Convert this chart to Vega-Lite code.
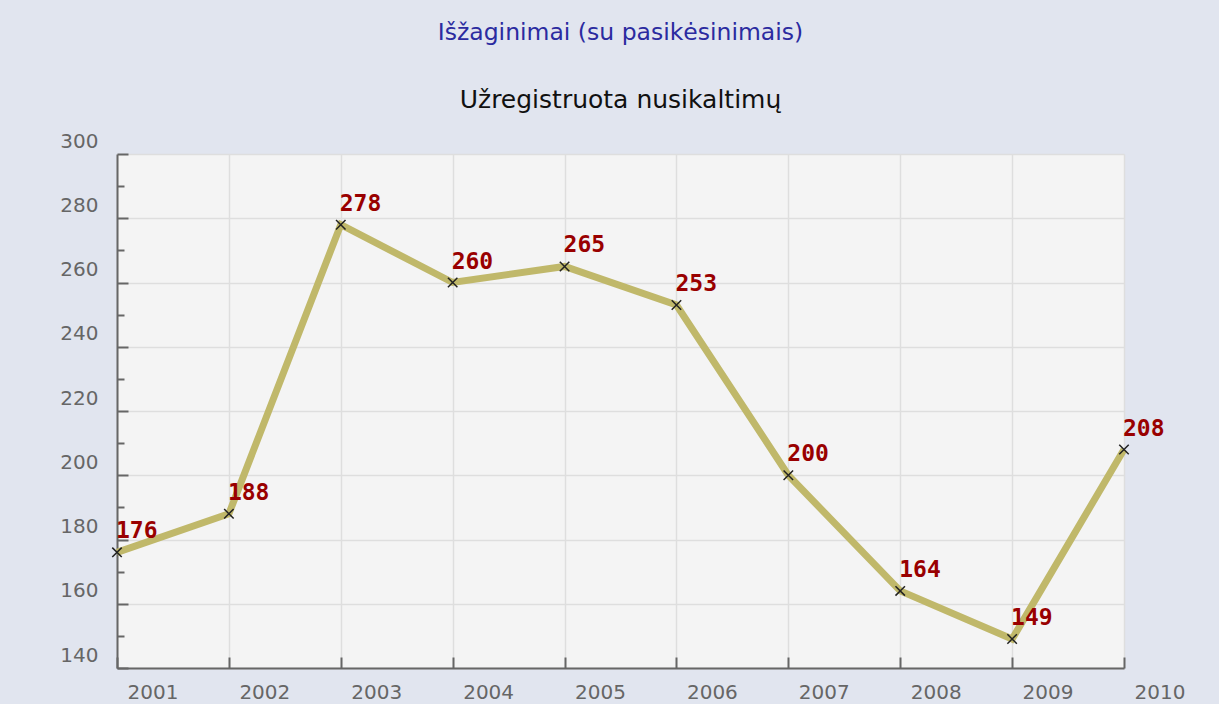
{
  "$schema": "https://vega.github.io/schema/vega-lite/v6.json",
  "autosize": {"type": "none"},
  "width": 1007,
  "height": 514,
  "padding": {"left": 117, "top": 154, "right": 95, "bottom": 36},
  "background": "#e1e5ef",
  "config": {
    "view": {"fill": "#f4f4f4", "stroke": null},
    "axis": {"labelFont": "DejaVu Sans", "labelFontSize": 20, "labelColor": "#666666", "domainColor": "#666666", "domainWidth": 2, "tickColor": "#666666", "tickWidth": 2, "gridColor": "#dedede", "gridWidth": 1.5, "title": null}
  },
  "title": {
    "text": "Išžaginimai (su pasikėsinimais)",
    "subtitle": "Užregistruota nusikaltimų",
    "anchor": "middle",
    "frame": "group",
    "font": "DejaVu Sans",
    "fontSize": 23.5,
    "fontWeight": "normal",
    "color": "#2b2ba0",
    "subtitleFont": "DejaVu Sans",
    "subtitleFontSize": 25,
    "subtitleColor": "#111111",
    "subtitlePadding": 44,
    "offset": 18
  },
  "data": {
    "values": [
      {"year": 2001, "value": 176},
      {"year": 2002, "value": 188},
      {"year": 2003, "value": 278},
      {"year": 2004, "value": 260},
      {"year": 2005, "value": 265},
      {"year": 2006, "value": 253},
      {"year": 2007, "value": 200},
      {"year": 2008, "value": 164},
      {"year": 2009, "value": 149},
      {"year": 2010, "value": 208}
    ]
  },
  "encoding": {
    "x": {
      "field": "year", "type": "quantitative",
      "scale": {"domain": [2001, 2010], "nice": false, "zero": false},
      "axis": {"values": [2001, 2002, 2003, 2004, 2005, 2006, 2007, 2008, 2009, 2010], "format": "d", "labelAlign": "left", "labelBaseline": "top", "labelOffset": 10, "labelPadding": 25, "tickSize": -11, "labelFlush": false}
    },
    "y": {
      "field": "value", "type": "quantitative",
      "scale": {"domain": [140, 300], "nice": false, "zero": false},
      "axis": {
        "values": [140, 150, 160, 170, 180, 190, 200, 210, 220, 230, 240, 250, 260, 270, 280, 290, 300],
        "labelExpr": "datum.value % 20 === 0 ? datum.label : ''",
        "tickSize": {"condition": {"test": "datum.value % 20 === 0", "value": -11}, "value": -7},
        "gridOpacity": {"condition": {"test": "datum.value % 20 === 0", "value": 1}, "value": 0},
        "labelBaseline": "bottom",
        "labelOffset": -3,
        "labelPadding": 30,
        "labelFlush": false
      }
    }
  },
  "layer": [
    {"mark": {"type": "line", "color": "#c0b86a", "strokeWidth": 7, "strokeCap": "butt"}},
    {"mark": {"type": "point", "shape": "M-1,-1L1,1M-1,1L1,-1", "filled": false, "stroke": "#222222", "strokeWidth": 1.5, "size": 90, "opacity": 1}},
    {"mark": {"type": "text", "align": "left", "baseline": "alphabetic", "dx": -1, "dy": -14, "font": "DejaVu Sans Mono", "fontWeight": "bold", "fontSize": 23, "color": "#990000"}, "encoding": {"text": {"field": "value", "type": "quantitative"}}}
  ]
}
